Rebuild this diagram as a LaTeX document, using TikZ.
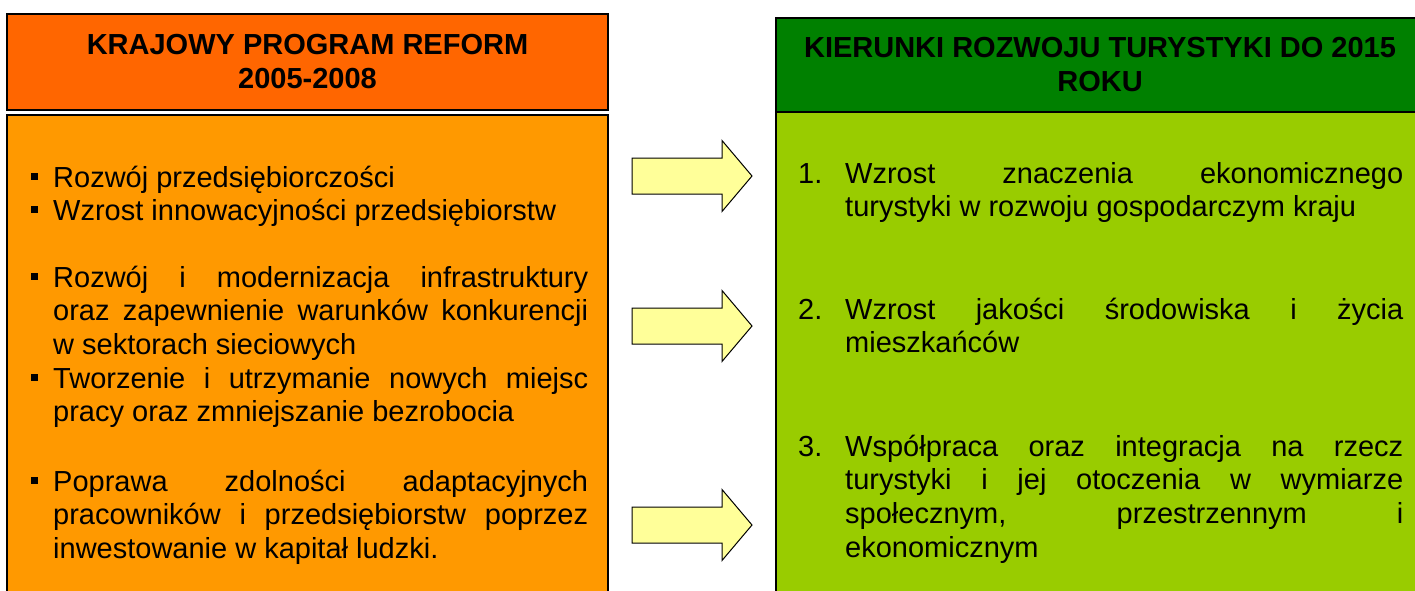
\documentclass[tikz,border=0pt]{standalone}
\usepackage{fontspec}
\setmainfont{Liberation Sans}
\definecolor{KPRnaglowek}{HTML}{FF6600}
\definecolor{KPRtresc}{HTML}{FF9900}
\definecolor{KRTnaglowek}{HTML}{008000}
\definecolor{KRTtresc}{HTML}{99CC00}
\definecolor{Cstrzalka}{HTML}{FFFF99}
\hyphenpenalty=10000
\exhyphenpenalty=10000
\tikzset{
  ramka/.style={draw=black, line width=1.3pt},
  naglowek/.style={ramka, font=\bfseries\fontsize{29pt}{34pt}\selectfont, align=center, inner sep=0pt},
  akapit/.style={anchor=base west, inner sep=0pt, align=justify, font=\fontsize{29pt}{33.7pt}\selectfont},
  strzalka/.style={draw=black, line width=1pt, fill=Cstrzalka, line join=miter}
}
\newcommand{\kwadrat}{\leavevmode\llap{\rule[7.5pt]{6.5pt}{6.5pt}\hspace{15.5pt}}}
\newcommand{\numer}[1]{\leavevmode\llap{\makebox[47pt][l]{#1}}}
\begin{document}
\begin{tikzpicture}[x=1pt,y=-1pt]

\useasboundingbox (0,0) rectangle (1415,590);
\clip (0,0) rectangle (1415,590);

% left column
\node[naglowek, fill=KPRnaglowek, minimum width=601pt, minimum height=96pt] (naglowekKPR) at (307.5,62) {KRAJOWY PROGRAM REFORM\\2005-2008};
\draw[ramka, fill=KPRtresc] (7,115) rectangle (608,600);

\node[akapit, text width=535pt] (kpr1) at (53,187) {\kwadrat Rozwój przedsiębiorczości};
\node[akapit, text width=535pt] (kpr2) at (53,220) {\kwadrat Wzrost innowacyjności przedsiębiorstw};
\node[akapit, text width=535pt] (kpr3) at (53,287) {\kwadrat Rozwój i modernizacja infrastruktury\linebreak oraz zapewnienie warunków konkurencji\linebreak w sektorach sieciowych};
\node[akapit, text width=535pt] (kpr4) at (53,388) {\kwadrat Tworzenie i utrzymanie nowych miejsc\linebreak pracy oraz zmniejszanie bezrobocia};
\node[akapit, text width=535pt] (kpr5) at (53,491) {\kwadrat Poprawa zdolności adaptacyjnych\linebreak pracowników i przedsiębiorstw poprzez\linebreak inwestowanie w kapitał ludzki.};

% right column
\node[naglowek, fill=KRTnaglowek, minimum width=648pt, minimum height=94pt] (naglowekKRT) at (1100,65) {KIERUNKI ROZWOJU TURYSTYKI DO 2015\\ROKU};
\draw[ramka, fill=KRTtresc] (776,112) rectangle (1424,600);

\node[akapit, text width=558pt] (krt1) at (845,183) {\numer{1.}Wzrost znaczenia ekonomicznego\linebreak turystyki w rozwoju gospodarczym kraju};
\node[akapit, text width=558pt] (krt2) at (845,319) {\numer{2.}Wzrost jakości środowiska i życia\linebreak mieszkańców};
\node[akapit, text width=558pt] (krt3) at (845,456) {\numer{3.}Współpraca oraz integracja na rzecz\linebreak turystyki i jej otoczenia w wymiarze\linebreak społecznym, przestrzennym i\linebreak ekonomicznym};

% arrows
\foreach \y in {176,326,525}
  \draw[strzalka] (632,\y-18) -- (722,\y-18) -- (722,\y-35.5) -- (752,\y)
    -- (722,\y+35.5) -- (722,\y+18) -- (632,\y+18) -- cycle;

\end{tikzpicture}
\end{document}
